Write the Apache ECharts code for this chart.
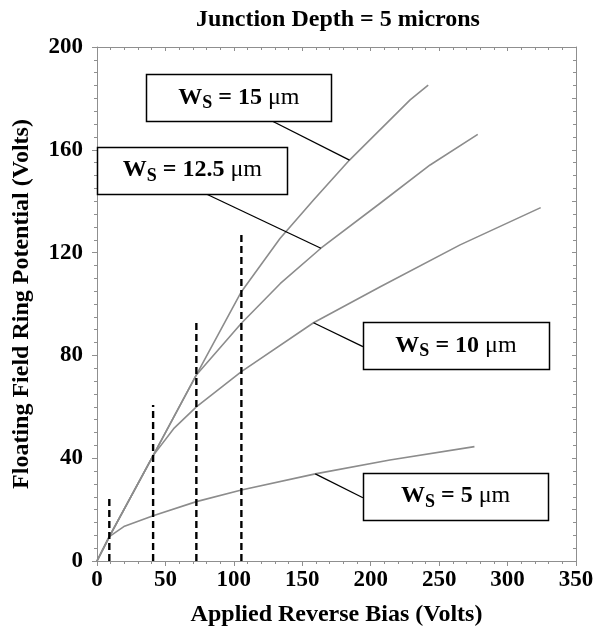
<!DOCTYPE html>
<html>
<head>
<meta charset="utf-8">
<title>Floating Field Ring Potential</title>
<script src="https://cdn.jsdelivr.net/npm/echarts@6/dist/echarts.min.js"></script>
<style>
  html, body { margin: 0; padding: 0; background: #fff; }
  #chart { width: 599px; height: 630px; }
</style>
</head>
<body>
<div id="chart"></div>
<script>
// Axis ticks
const biasTicks = [0, 50, 100, 150, 200, 250, 300, 350];
const potentialTicks = [0, 40, 80, 120, 160, 200];

// Ring potential vs. applied bias for each ring spacing W_S (volts)
const ws15Bias = [0, 9, 41, 72.6, 105.5, 133.7, 158.2, 184.5, 228.8, 242];
const ws15Potential = [0, 9.5, 41, 72.4, 104.8, 125.5, 140.5, 156, 179.4, 185.2];

const ws125Bias = [0, 9, 41, 72.6, 105.5, 134, 163.6, 206.9, 243.4, 278.2];
const ws125Potential = [0, 9.5, 41, 72.4, 92.5, 108, 121.7, 139.2, 154.1, 166];

const ws10Bias = [0, 9, 41, 56, 72.6, 105.5, 158.2, 207, 265.3, 324.2];
const ws10Potential = [0, 9.5, 41, 51.5, 60, 73.7, 92.7, 106.7, 123, 137.5];

const ws5Bias = [0, 9, 19.6, 41, 72.6, 105.5, 159.5, 214, 275.8];
const ws5Potential = [0, 9.5, 13.4, 17.6, 23.1, 27.6, 33.9, 39.3, 44.5];

// Dashed guides: bias where each curve splits off, and guide height
const guideBias = [9, 41, 72.6, 105.5];
const guideTop = [24.5, 60.7, 92.6, 127.6];

// Curve captions (W_S value in micrometres)
const spacingLabels = ['15', '12.5', '10', '5'];

const SERIF = "'Liberation Serif', 'Times New Roman', serif";
const AXIS_GRAY = '#8f8f8f';
const CURVE_GRAY = '#8c8c8c';

function pairs(xs, ys) { return xs.map((x, i) => [x, ys[i]]); }

const curves = [
  pairs(ws15Bias, ws15Potential),
  pairs(ws125Bias, ws125Potential),
  pairs(ws10Bias, ws10Potential),
  pairs(ws5Bias, ws5Potential)
];

const chart = echarts.init(document.getElementById('chart'), null, { renderer: 'canvas' });

const tickLabel = { fontFamily: SERIF, fontWeight: 'bold', fontSize: 23, color: '#000' };

const curveSeries = curves.map((data, i) => ({
  name: 'W_S = ' + spacingLabels[i],
  type: 'line',
  data: data,
  symbol: 'none',
  smooth: false,
  lineStyle: { color: CURVE_GRAY, width: 1.6, join: 'round' },
  xAxisIndex: 0,
  yAxisIndex: 0,
  z: 3
}));

const guideSeries = guideBias.map((b, i) => ({
  type: 'line',
  data: [[b, 0], [b, guideTop[i]]],
  symbol: 'none',
  lineStyle: { color: '#000', width: 2.4, type: [7, 4] },
  xAxisIndex: 0,
  yAxisIndex: 0,
  z: 4
}));

const option = {
  animation: false,
  backgroundColor: '#fff',
  title: {
    text: 'Junction Depth = 5 microns',
    left: 333,
    top: 3,
    textAlign: 'center',
    textStyle: { fontFamily: SERIF, fontWeight: 'bold', fontSize: 24, color: '#000' }
  },
  grid: {
    left: 97, right: 23, top: 47, bottom: 69,
    containLabel: false,
    outerBoundsMode: 'none'
  },
  xAxis: [
    {
      type: 'value',
      position: 'bottom',
      min: biasTicks[0],
      max: biasTicks[biasTicks.length - 1],
      interval: biasTicks[1] - biasTicks[0],
      name: 'Applied Reverse Bias (Volts)',
      nameLocation: 'middle',
      nameGap: 42,
      nameTextStyle: { fontFamily: SERIF, fontWeight: 'bold', fontSize: 24, color: '#000' },
      axisLine: { show: true, onZero: false, lineStyle: { color: AXIS_GRAY, width: 1 } },
      axisTick: { show: true, inside: false, length: 5, lineStyle: { color: AXIS_GRAY } },
      minorTick: { show: true, splitNumber: 5, length: 3, lineStyle: { color: AXIS_GRAY } },
      splitLine: { show: false },
      axisLabel: Object.assign({ margin: 8 }, tickLabel)
    },
    {
      type: 'value',
      position: 'top',
      min: biasTicks[0],
      max: biasTicks[biasTicks.length - 1],
      interval: biasTicks[1] - biasTicks[0],
      axisLine: { show: true, onZero: false, lineStyle: { color: AXIS_GRAY, width: 1 } },
      axisTick: { show: true, inside: true, length: 4, lineStyle: { color: AXIS_GRAY } },
      minorTick: { show: true, splitNumber: 5, length: 3, lineStyle: { color: AXIS_GRAY } },
      splitLine: { show: false },
      axisLabel: { show: false }
    }
  ],
  yAxis: [
    {
      type: 'value',
      position: 'left',
      min: potentialTicks[0],
      max: potentialTicks[potentialTicks.length - 1],
      interval: potentialTicks[1] - potentialTicks[0],
      name: 'Floating Field Ring Potential (Volts)',
      nameLocation: 'middle',
      nameGap: 63,
      nameTextStyle: { fontFamily: SERIF, fontWeight: 'bold', fontSize: 24, color: '#000' },
      axisLine: { show: true, onZero: false, lineStyle: { color: AXIS_GRAY, width: 1 } },
      axisTick: { show: true, inside: false, length: 5, lineStyle: { color: AXIS_GRAY } },
      minorTick: { show: true, splitNumber: 8, length: 3, lineStyle: { color: AXIS_GRAY } },
      splitLine: { show: false },
      axisLabel: Object.assign({ margin: 14 }, tickLabel)
    },
    {
      type: 'value',
      position: 'right',
      min: potentialTicks[0],
      max: potentialTicks[potentialTicks.length - 1],
      interval: 20,
      axisLine: { show: true, onZero: false, lineStyle: { color: AXIS_GRAY, width: 1 } },
      axisTick: { show: true, inside: true, length: 4, lineStyle: { color: AXIS_GRAY } },
      minorTick: { show: true, splitNumber: 4, length: 3, lineStyle: { color: AXIS_GRAY } },
      splitLine: { show: false },
      axisLabel: { show: false }
    }
  ],
  series: curveSeries.concat(guideSeries)
};

chart.setOption(option);

// Caption boxes, placed in data space: [xLeft, yTop, xRight, yBottom],
// leader start in data space, and the index of the curve point it points at.
const captionLayout = [
  { box: [36.1, 189.5, 171.2, 171.2], from: [127.9, 171.2], curve: 0, point: 7 },
  { box: [0.15, 161.2, 139.3, 143.1], from: [78.7, 143.1], curve: 1, point: 6 },
  { box: [194.3, 93.1, 330.3, 74.7], from: [194.3, 83.4], curve: 2, point: 6 },
  { box: [194.3, 34.4, 329.8, 16.2], from: [194.3, 24.6], curve: 3, point: 6 }
];

const measureCtx = document.createElement('canvas').getContext('2d');
function textWidth(font, s) { measureCtx.font = font; return measureCtx.measureText(s).width; }

const toPx = (p) => chart.convertToPixel({ seriesIndex: 0 }, p);

const MAIN_FONT = 'bold 24px ' + SERIF;
const SUB_FONT = 'bold 18px ' + SERIF;
const UNIT_FONT = 'normal 24px ' + SERIF;

const elements = [];
captionLayout.forEach((c, i) => {
  const tl = toPx([c.box[0], c.box[1]]);
  const br = toPx([c.box[2], c.box[3]]);
  const from = toPx(c.from);
  const to = toPx(curves[c.curve][c.point]);

  elements.push({
    type: 'line', z: 20,
    shape: { x1: from[0], y1: from[1], x2: to[0], y2: to[1] },
    style: { stroke: '#000', lineWidth: 1.3 }
  });
  elements.push({
    type: 'rect', z: 21,
    shape: { x: Math.round(tl[0]) + 0.5, y: Math.round(tl[1]) + 0.5,
             width: Math.round(br[0] - tl[0]), height: Math.round(br[1] - tl[1]) },
    style: { fill: '#fff', stroke: '#000', lineWidth: 1.5 }
  });

  const parts = [
    { t: 'W', font: MAIN_FONT, dy: 0 },
    { t: 'S', font: SUB_FONT, dy: 6 },
    { t: ' = ' + spacingLabels[i] + ' ', font: MAIN_FONT, dy: 0 },
    { t: '\u03bcm', font: UNIT_FONT, dy: 0 }
  ];
  const widths = parts.map(p => textWidth(p.font, p.t));
  const total = widths.reduce((a, b) => a + b, 0);
  const cx = (tl[0] + br[0]) / 2;
  const cy = (tl[1] + br[1]) / 2;
  let x = cx - total / 2;
  parts.forEach((p, k) => {
    elements.push({
      type: 'text', z: 22,
      style: {
        x: x, y: cy + p.dy, text: p.t, font: p.font, fill: '#000',
        align: 'left', verticalAlign: 'middle',
        textAlign: 'left', textVerticalAlign: 'middle'
      }
    });
    x += widths[k];
  });
});

chart.setOption({ graphic: { elements: elements } });
</script>
</body>
</html>
